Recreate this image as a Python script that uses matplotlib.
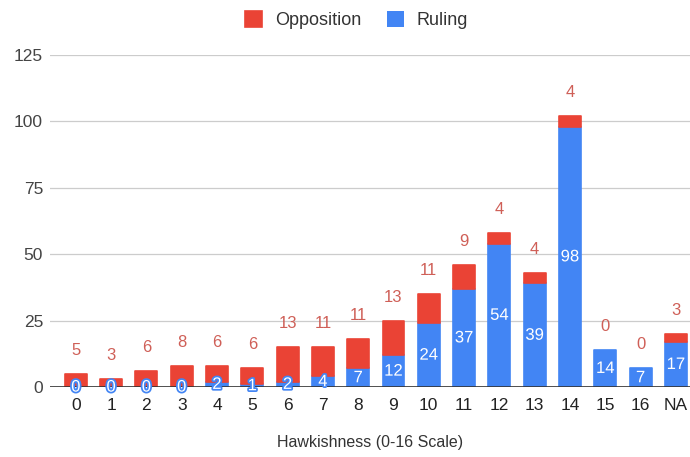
import matplotlib.pyplot as plt
import matplotlib.patheffects as pe
import numpy as np

categories = ["0", "1", "2", "3", "4", "5", "6", "7", "8", "9",
              "10", "11", "12", "13", "14", "15", "16", "NA"]
ruling = [0, 0, 0, 0, 2, 1, 2, 4, 7, 12, 24, 37, 54, 39, 98, 14, 7, 17]
opposition = [5, 3, 6, 8, 6, 6, 13, 11, 11, 13, 11, 9, 4, 4, 4, 0, 0, 3]

red = "#ea4335"
blue = "#4285f4"
label_red = "#cf5f57"

plt.rcParams["font.family"] = ["Liberation Sans", "DejaVu Sans"]

fig = plt.figure(figsize=(6.9, 4.57), dpi=100)
ax = fig.add_axes([0.0725, 0.153, 0.9275, 0.727])

x = np.arange(len(categories))
ruling = np.array(ruling)
opposition = np.array(opposition)
w = 0.62

# thin same-colour edge with round joins softens the bar corners
ax.bar(x, ruling, width=w, color=blue, edgecolor=blue,
       linewidth=[1.2 if v > 0 else 0 for v in ruling],
       joinstyle="round", zorder=3, label="Ruling")
ax.bar(x, opposition, width=w, bottom=ruling, color=red, edgecolor=red,
       linewidth=[1.2 if v > 0 else 0 for v in opposition],
       joinstyle="round", zorder=3, label="Opposition")

# ruling counts sit in the middle of the blue segment
for xi, r in zip(x, ruling):
    ax.text(xi, r / 2, str(r), ha="center", va="center", color="white",
            fontsize=12, zorder=5,
            path_effects=[pe.withStroke(linewidth=2.5, foreground=blue)])

# opposition counts float above the stack
for xi, r, o in zip(x, ruling, opposition):
    ax.annotate(str(o), (xi, r + o), xytext=(0, 17), textcoords="offset points",
                ha="center", va="center", color=label_red, fontsize=12,
                zorder=5)

ax.set_xlim(-0.73, 17.4)
ax.set_ylim(0, 125)
ax.set_yticks([0, 25, 50, 75, 100, 125])
ax.set_xticks(x)
ax.set_xticklabels(categories)
ax.grid(axis="y", color="#cccccc", linewidth=0.9, zorder=0)
ax.axhline(0, color="#333333", linewidth=1.2, zorder=4)
for s in ax.spines.values():
    s.set_visible(False)
ax.tick_params(axis="both", length=0, labelsize=12.5)
ax.tick_params(axis="y", pad=5, labelcolor="#444444")
ax.tick_params(axis="x", pad=8, labelcolor="#222222")

ax.set_xlabel("Hawkishness (0-16 Scale)", fontsize=11.5, color="#333333",
              labelpad=16)

handles, labels = ax.get_legend_handles_labels()
fig.legend(handles[::-1], labels[::-1], loc="center", bbox_to_anchor=(0.517, 0.956),
           ncol=2, frameon=False, fontsize=13, handlelength=0.95,
           handleheight=0.95, columnspacing=1.4, handletextpad=0.72,
           labelcolor="#333333")

fig.savefig("out.png", dpi=100)
